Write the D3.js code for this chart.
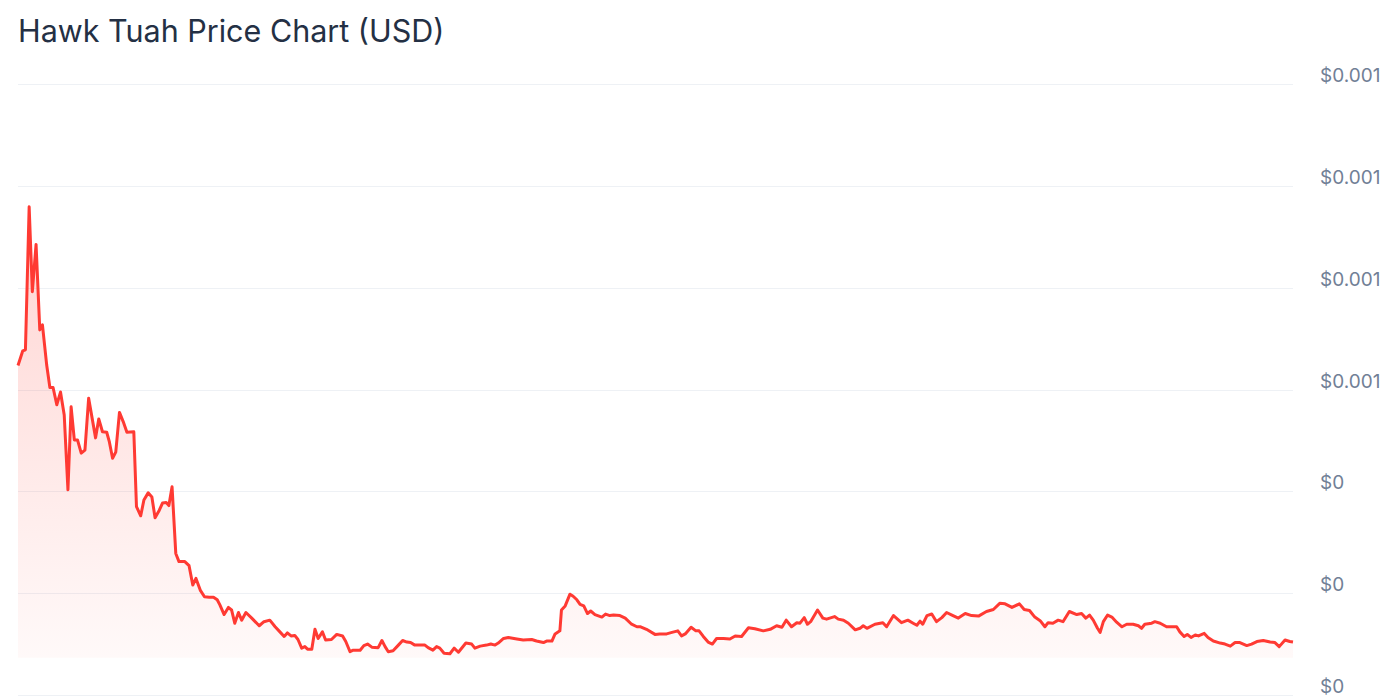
<!DOCTYPE html>
<html>
<head>
<meta charset="utf-8">
<script src="https://cdn.jsdelivr.net/npm/d3@7"></script>
<style>
	body { margin: 0; background: #fff; }
	svg { display: block; font-family: Inter, "Noto Sans", sans-serif; }
	.grid line { stroke: #eef1f5; stroke-width: 1; }
	.tick-label { fill: #718096; font-size: 19px; }
	.title { fill: #243044; font-size: 30.5px; }
</style>
</head>
<body>
<script>
const width = 1400;
const height = 700;

const title = "Hawk Tuah Price Chart (USD)";

// days since the first sample
const days = [
	0, 0.9, 1.4, 2.1, 2.7, 3.4, 4.1, 4.6, 5.4, 6.0, 6.6, 7.3, 8.0, 8.7, 9.4, 10.0, 10.6, 11.2, 11.9, 12.6,
	13.3, 14.6, 15.2, 15.9, 16.7, 17.2, 17.8, 18.4, 19.1, 19.8, 20.5, 21.8, 22.3, 23.1, 23.7, 24.5, 25.2, 25.8, 26.6, 27.2,
	27.9, 28.4, 29.0, 29.7, 30.3, 31.4, 32.2, 32.9, 33.5, 34.3, 35.1, 36.0, 36.8, 37.5, 38.0, 38.8, 39.6, 40.2, 40.8, 41.5,
	42.1, 42.9, 44.0, 45.4, 46.3, 47.4, 48.4, 49.3, 50.1, 50.7, 51.4, 52.1, 52.7, 53.4, 54.0, 54.5, 55.3, 55.9, 56.5, 57.3,
	57.9, 59.0, 60.0, 61.1, 61.7, 62.5, 63.1, 64.4, 65.1, 65.8, 66.6, 67.8, 68.5, 69.1, 69.7, 70.6, 71.6, 72.4, 73.2, 73.9,
	74.7, 76.6, 77.2, 78.1, 78.8, 79.4, 80.2, 81.3, 82.1, 82.9, 84.3, 85.4, 86.0, 87.0, 88.2, 89.0, 89.8, 90.4, 91.4, 92.3,
	93.9, 95.1, 96.7, 97.6, 98.9, 99.5, 100.5, 101.1, 102.0, 102.3, 103.0, 103.9, 104.5, 105.2, 105.8, 106.5, 107.2, 107.8, 108.6, 109.9,
	110.6, 111.4, 112.1, 113.3, 114.3, 115.5, 116.5, 117.2, 118.3, 119.9, 120.8, 122.1, 123.1, 124.2, 124.9, 125.6, 126.7, 127.6, 128.2, 129.0,
	129.9, 130.7, 131.5, 132.8, 134.0, 135.0, 136.2, 137.5, 138.7, 140.3, 141.6, 142.8, 143.8, 144.6, 145.6, 146.6, 147.2, 148.0, 148.6, 149.2,
	150.5, 151.5, 152.2, 153.7, 154.4, 155.4, 156.3, 157.6, 158.5, 159.1, 159.8, 161.3, 162.8, 163.5, 164.8, 166.3, 167.5, 168.5, 169.2, 169.8,
	170.3, 171.1, 172.0, 172.9, 173.9, 174.8, 175.8, 177.0, 178.3, 179.5, 180.8, 182.3, 183.6, 184.8, 185.8, 187.1, 188.5, 189.4, 190.4, 191.4,
	192.4, 193.3, 193.9, 194.8, 195.8, 196.7, 197.9, 199.3, 200.2, 201.0, 201.7, 202.4, 203.2, 203.7, 204.3, 205.1, 205.9, 206.8, 207.8, 208.7,
	209.9, 210.9, 211.5, 212.1, 213.4, 214.0, 215.0, 216.2, 218.1, 218.7, 219.5, 220.1, 220.8, 221.6, 222.2, 223.3, 224.0, 225.0, 226.3, 227.2,
	228.2, 229.1, 230.0, 231.3, 232.2, 233.2, 234.4, 235.7, 236.6, 237.4, 238.5, 239.4, 240
];

// price in USD
const prices = [
	0.000647, 0.000676, 0.000678, 0.000959, 0.000792, 0.000885, 0.000717, 0.000727, 0.000648, 0.000604, 0.000604, 0.000570, 0.000595, 0.000550, 0.000403, 0.000566, 0.000501, 0.000501, 0.000475, 0.000481,
	0.000583, 0.000505, 0.000542, 0.000517, 0.000516, 0.000497, 0.000465, 0.000477, 0.000555, 0.000537, 0.000516, 0.000517, 0.000370, 0.000352, 0.000383, 0.000397, 0.000389, 0.000348, 0.000363, 0.000377,
	0.000378, 0.000372, 0.000409, 0.000278, 0.000262, 0.000262, 0.000254, 0.000216, 0.000229, 0.000206, 0.000193, 0.000192, 0.000192, 0.000187, 0.000177, 0.000158, 0.000172, 0.000167, 0.000141, 0.000162,
	0.000147, 0.000162, 0.000151, 0.000136, 0.000144, 0.000147, 0.000134, 0.000124, 0.000115, 0.000122, 0.000116, 0.000117, 0.000109, 0.000092, 0.000095, 0.000090, 0.000090, 0.000129, 0.000111, 0.000124,
	0.000108, 0.000109, 0.000119, 0.000116, 0.000105, 0.000085, 0.000088, 0.000088, 0.000097, 0.000100, 0.000094, 0.000093, 0.000107, 0.000095, 0.000085, 0.000087, 0.000098, 0.000107, 0.000104, 0.000103,
	0.000098, 0.000098, 0.000093, 0.000088, 0.000095, 0.000092, 0.000082, 0.000081, 0.000092, 0.000084, 0.000102, 0.000100, 0.000092, 0.000096, 0.000098, 0.000100, 0.000098, 0.000102, 0.000111, 0.000113,
	0.000110, 0.000108, 0.000109, 0.000106, 0.000103, 0.000106, 0.000106, 0.000120, 0.000126, 0.000167, 0.000175, 0.000198, 0.000194, 0.000187, 0.000178, 0.000175, 0.000160, 0.000165, 0.000158, 0.000153,
	0.000159, 0.000156, 0.000157, 0.000156, 0.000151, 0.000139, 0.000134, 0.000134, 0.000129, 0.000119, 0.000120, 0.000120, 0.000123, 0.000126, 0.000116, 0.000120, 0.000133, 0.000126, 0.000126, 0.000115,
	0.000104, 0.000100, 0.000111, 0.000111, 0.000110, 0.000116, 0.000115, 0.000132, 0.000130, 0.000126, 0.000129, 0.000136, 0.000133, 0.000147, 0.000134, 0.000142, 0.000141, 0.000152, 0.000139, 0.000144,
	0.000167, 0.000151, 0.000149, 0.000154, 0.000149, 0.000147, 0.000141, 0.000128, 0.000131, 0.000136, 0.000131, 0.000139, 0.000142, 0.000134, 0.000156, 0.000142, 0.000147, 0.000141, 0.000137, 0.000145,
	0.000139, 0.000156, 0.000159, 0.000144, 0.000152, 0.000162, 0.000157, 0.000151, 0.000160, 0.000156, 0.000155, 0.000164, 0.000168, 0.000180, 0.000179, 0.000172, 0.000179, 0.000168, 0.000166, 0.000153,
	0.000146, 0.000134, 0.000142, 0.000141, 0.000147, 0.000144, 0.000164, 0.000158, 0.000160, 0.000151, 0.000157, 0.000147, 0.000131, 0.000123, 0.000144, 0.000157, 0.000153, 0.000143, 0.000134, 0.000139,
	0.000139, 0.000136, 0.000131, 0.000139, 0.000141, 0.000144, 0.000141, 0.000134, 0.000134, 0.000124, 0.000115, 0.000119, 0.000113, 0.000118, 0.000116, 0.000121, 0.000113, 0.000106, 0.000102, 0.000100,
	0.000096, 0.000103, 0.000103, 0.000097, 0.000100, 0.000105, 0.000107, 0.000104, 0.000103, 0.000095, 0.000108, 0.000105, 0.000104
];

// y axis ticks
const yTicks = [0, 0.0002, 0.0004, 0.0006, 0.0008, 0.001, 0.0012];

const data = days.map((d, i) => ({ day: d, price: prices[i] }));

const x = d3.scaleLinear()
	.domain([0, d3.max(days)])
	.range([18, 1293]);

const y = d3.scaleLinear()
	.domain([0, d3.max(yTicks)])
	.range([695, 84]);

const fmt = d3.format(".3~f");

const svg = d3.select("body")
	.append("svg")
	.attr("width", width)
	.attr("height", height);

// gradient for the area under the line
const grad = svg.append("defs")
	.append("linearGradient")
	.attr("id", "fade")
	.attr("x1", 0).attr("y1", 0)
	.attr("x2", 0).attr("y2", 1);
grad.append("stop").attr("offset", "0%").attr("stop-color", "#ff3b30").attr("stop-opacity", 0.22);
grad.append("stop").attr("offset", "100%").attr("stop-color", "#ff3b30").attr("stop-opacity", 0.03);

svg.append("text")
	.attr("class", "title")
	.attr("x", 18)
	.attr("y", 42)
	.text(title);

// grid lines + labels on the right
const grid = svg.append("g").attr("class", "grid");
grid.selectAll("line")
	.data(yTicks)
	.enter().append("line")
	.attr("x1", 18)
	.attr("x2", 1293)
	.attr("y1", (d) => Math.round(y(d)) + 0.5)
	.attr("y2", (d) => Math.round(y(d)) + 0.5);

svg.selectAll(".tick-label")
	.data(yTicks)
	.enter().append("text")
	.attr("class", "tick-label")
	.attr("x", 1320)
	.attr("y", (d) => y(d) - 2)
	.text((d) => "$" + fmt(d));

// area floor sits a little below the lowest price
const floor = y(d3.min(prices)) + 4;

const area = d3.area()
	.x((d) => x(d.day))
	.y0(floor)
	.y1((d) => y(d.price));

const line = d3.line()
	.x((d) => x(d.day))
	.y((d) => y(d.price));

svg.append("path")
	.datum(data)
	.attr("d", area)
	.style("fill", "url(#fade)");

svg.append("path")
	.datum(data)
	.attr("d", line)
	.style("fill", "none")
	.style("stroke", "#ff3a33")
	.style("stroke-width", 3)
	.style("stroke-linejoin", "round");
</script>
</body>
</html>
